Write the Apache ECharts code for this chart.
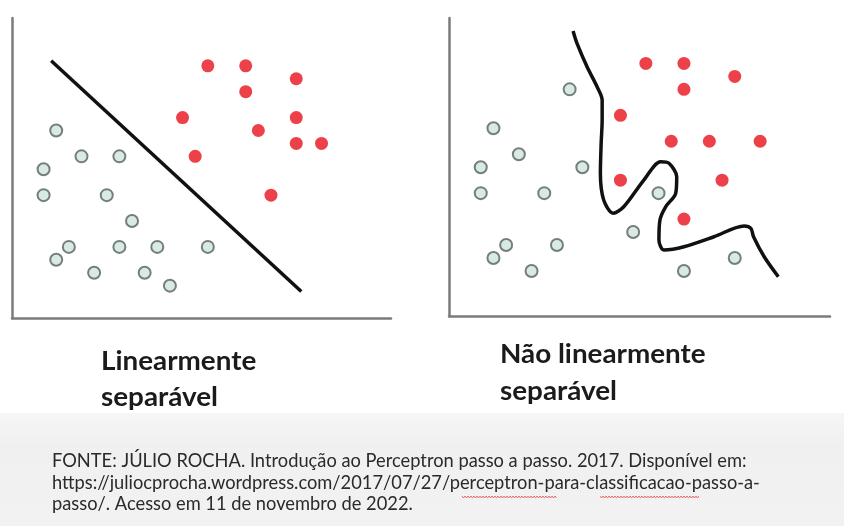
<!DOCTYPE html>
<html><head><meta charset="utf-8">
<script src="https://cdn.jsdelivr.net/npm/echarts@6/dist/echarts.min.js"></script>
<style>html,body{margin:0;padding:0;background:#fff}#c{width:844px;height:526px}</style>
</head><body><div id="c"></div>
<script>
// Left panel: linearly separable
const leftRed = [[13,17],[16,17],[20,16],[16,15],[11,13],[20,13],[17,12],[20,11],[22,11],[12,10],[18,7]];
const leftTeal = [[1,12],[3,10],[6,10],[0,9],[0,7],[5,7],[7,5],[2,3],[6,3],[9,3],[13,3],[1,2],[4,1],[8,1],[10,0]];
const leftBoundary = [[0.6,17.4],[20.4,-0.45]];
// Right panel: not linearly separable
const rightRed = [[13,16],[16,16],[20,15],[16,14],[11,12],[15,10],[18,10],[22,10],[11,7],[19,7],[16,4]];
const rightTeal = [[7,14],[1,11],[3,9],[0,8],[8,8],[0,6],[5,6],[14,6],[12,3],[2,2],[6,2],[1,1],[4,0],[16,0],[20,1]];
const rightBoundary = [[7.27,18.5],[7.58,17.54],[8.37,15.74],[9.16,14.2],[9.56,13.17],[9.56,11.63],[9.48,9.84],[9.42,7.53],[9.68,5.47],[10.43,4.45],[11.26,4.95],[12.84,7.01],[14.16,8.42],[14.82,8.3],[15.43,7.26],[15.35,5.99],[14.56,4.95],[14.11,3.93],[14.03,2.39],[14.42,1.62],[16.0,1.87],[18.37,2.64],[20.74,3.47],[21.27,3.29],[21.48,2.64],[22.32,1.1],[23.43,-0.44]];
// Texts
const panelLabels = [["Linearmente","separável"],["Não linearmente","separável"]];
const sourceLines = [
  "FONTE: JÚLIO ROCHA. Introdução ao Perceptron passo a passo. 2017. Disponível em:",
  "https://juliocprocha.wordpress.com/2017/07/27/perceptron-para-classificacao-passo-a-",
  "passo/. Acesso em 11 de novembro de 2022."
];

const chart = echarts.init(document.getElementById('c'), null, {renderer:'canvas'});
const axLine = {show:true, onZero:false, lineStyle:{color:'#7b7b7b', width:2.5}};
function ax(gi, min, max){
  return {type:'value', gridIndex:gi, min:min, max:max, axisLine:axLine,
    axisTick:{show:false}, axisLabel:{show:false}, splitLine:{show:false}};
}
const tealStyle = {color:'#cfe5df', borderColor:'#55625e', borderWidth:2};
const redStyle = {color:'#e8121b'};
function wavy(x0, x1, y){
  const pts = [];
  for (let x = x0, i = 0; x <= x1; x += 1.5, i++) pts.push([x, y + (i % 2 ? 1 : -1)]);
  return pts;
}
const labelFont = 'bold 26px Lato';
const graphics = [
  {type:'rect', z:-1, shape:{x:0, y:413, width:844, height:113},
   style:{fill:new echarts.graphic.LinearGradient(0,0,0,1,[{offset:0,color:'#f6f6f6'},{offset:0.3,color:'#f0f0f0'},{offset:1,color:'#f2f2f2'}])}},
  {type:'text', x:101, y:362, scaleX:1.07, style:{text:panelLabels[0][0], font:labelFont, fill:'#1b1b1b', textVerticalAlign:'middle'}},
  {type:'text', x:101, y:398, scaleX:1.07, style:{text:panelLabels[0][1], font:labelFont, fill:'#1b1b1b', textVerticalAlign:'middle'}},
  {type:'text', x:500, y:355, scaleX:1.07, style:{text:panelLabels[1][0], font:labelFont, fill:'#1b1b1b', textVerticalAlign:'middle'}},
  {type:'text', x:500, y:392, scaleX:1.07, style:{text:panelLabels[1][1], font:labelFont, fill:'#1b1b1b', textVerticalAlign:'middle'}}
];
sourceLines.forEach((t, i) => {
  graphics.push({type:'text', x:52, y:461 + i*21.5, scaleX:0.914,
    style:{text:t, font:'20px Lato', fill:'#2a2a2a', textVerticalAlign:'middle'}});
});
graphics.push({type:'polyline', shape:{points:wavy(462,557,497)}, style:{stroke:'#e05050', lineWidth:0.8, fill:null}});
graphics.push({type:'polyline', shape:{points:wavy(600,700,497)}, style:{stroke:'#e05050', lineWidth:0.8, fill:null}});

chart.setOption({
  animation:false,
  backgroundColor:'#ffffff',
  grid:[
    {left:12, top:18, width:379, height:300},
    {left:449, top:18, width:381, height:298}
  ],
  xAxis:[ax(0,-2.5,27.5), ax(1,-2.5,27.5)],
  yAxis:[ax(0,-2.5,20.7), ax(1,-3.47,19.5)],
  graphic:graphics,
  series:[
    {type:'line', xAxisIndex:0, yAxisIndex:0, data:leftBoundary, symbol:'none', lineStyle:{color:'#111', width:3.5}, z:1},
    {type:'scatter', xAxisIndex:0, yAxisIndex:0, data:leftRed, symbolSize:13, itemStyle:redStyle},
    {type:'scatter', xAxisIndex:0, yAxisIndex:0, data:leftTeal, symbolSize:12, itemStyle:tealStyle},
    {type:'line', xAxisIndex:1, yAxisIndex:1, data:rightBoundary, symbol:'none', smooth:0.3, lineStyle:{color:'#111', width:3.5}, z:1},
    {type:'scatter', xAxisIndex:1, yAxisIndex:1, data:rightRed, symbolSize:13, itemStyle:redStyle},
    {type:'scatter', xAxisIndex:1, yAxisIndex:1, data:rightTeal, symbolSize:12, itemStyle:tealStyle}
  ]
});
</script></body></html>
